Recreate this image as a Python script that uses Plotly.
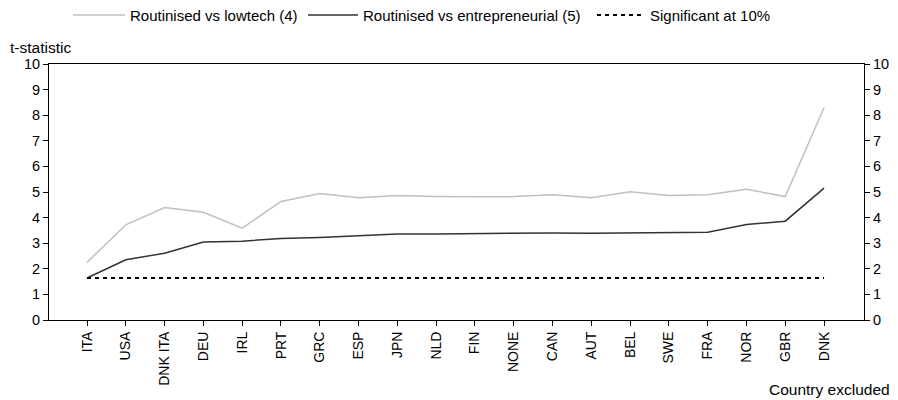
import plotly.graph_objects as go

countries = ["ITA", "USA", "DNK ITA", "DEU", "IRL", "PRT", "GRC", "ESP", "JPN", "NLD",
             "FIN", "NONE", "CAN", "AUT", "BEL", "SWE", "FRA", "NOR", "GBR", "DNK"]
lowtech = [2.25, 3.72, 4.39, 4.21, 3.59, 4.63, 4.94, 4.78, 4.86, 4.82,
           4.81, 4.82, 4.89, 4.78, 5.01, 4.86, 4.89, 5.11, 4.82, 8.30]
entrepreneurial = [1.64, 2.35, 2.61, 3.05, 3.08, 3.18, 3.22, 3.30, 3.36, 3.36,
                   3.38, 3.39, 3.40, 3.39, 3.40, 3.42, 3.43, 3.73, 3.86, 5.15]
significant = [1.645] * len(countries)
series_names = ["Routinised vs lowtech (4)", "Routinised vs entrepreneurial (5)",
                "Significant at 10%"]

FONT = "Liberation Sans, Arial, sans-serif"
GRAY = "#c0c0c0"
DARK = "#333333"
DASH = "4px,4px"

W, H = 898, 400
ML, MR, MT, MB = 49, 34, 64, 80
PW, PH = W - ML - MR, H - MT - MB


def px(x):
    return (x - ML) / PW


def py(y):
    return (H - MB - y) / PH


fig = go.Figure()
fig.add_trace(go.Scatter(x=countries, y=lowtech, mode="lines", name=series_names[0],
                         line=dict(color=GRAY, width=1.5)))
fig.add_trace(go.Scatter(x=countries, y=entrepreneurial, mode="lines", name=series_names[1],
                         line=dict(color=DARK, width=1.5)))
fig.add_trace(go.Scatter(x=countries, y=significant, mode="lines", name=series_names[2],
                         yaxis="y2", line=dict(color="#000000", width=2, dash=DASH)))

axis_common = dict(showline=True, linecolor="#000", linewidth=1, ticks="outside",
                   ticklen=5, tickcolor="#000", showgrid=False, zeroline=False)

# manual legend (line samples + labels)
legend_items = [
    (73, 125, 128, GRAY, 1.5, "solid", series_names[0]),
    (308, 358, 361, DARK, 1.5, "solid", series_names[1]),
    (597, 643, 648, "#000000", 2, DASH, series_names[2]),
]
shapes = []
annotations = []
LY = 15
for x0, x1, tx, col, w, dash, name in legend_items:
    shapes.append(dict(type="line", xref="paper", yref="paper",
                       x0=px(x0), x1=px(x1), y0=py(LY), y1=py(LY),
                       line=dict(color=col, width=w, dash=dash)))
    annotations.append(dict(text=name, xref="paper", yref="paper", x=px(tx), y=py(LY),
                            xanchor="left", yanchor="middle", showarrow=False,
                            font=dict(size=15)))

annotations.append(dict(text="t-statistic", xref="paper", yref="paper", x=px(8),
                        y=py(47), xanchor="left", yanchor="middle", showarrow=False,
                        font=dict(size=15.5)))
annotations.append(dict(text="Country excluded", xref="paper", yref="paper", x=px(892),
                        y=py(389), xanchor="right", yanchor="middle", showarrow=False,
                        font=dict(size=15.5)))

fig.update_layout(
    width=W, height=H,
    margin=dict(l=ML, r=MR, t=MT, b=MB, autoexpand=False),
    paper_bgcolor="white", plot_bgcolor="white",
    font=dict(family=FONT, size=14, color="#000000"),
    showlegend=False,
    xaxis=dict(type="category", range=[-0.98, 20.03], mirror=True, tickangle=-90,
               tickfont=dict(size=14), **axis_common),
    yaxis=dict(range=[0, 10], dtick=1, tickfont=dict(size=14.5), **axis_common),
    yaxis2=dict(range=[0, 10], dtick=1, overlaying="y", side="right",
                tickfont=dict(size=14.5), **axis_common),
    shapes=shapes,
    annotations=annotations,
)

fig.write_html("out.html", config={"displayModeBar": False},
               post_script="document.body.style.margin='0';document.body.style.overflow='hidden';")
